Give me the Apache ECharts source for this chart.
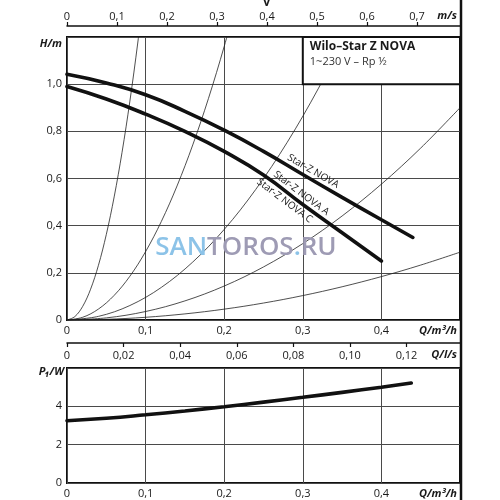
<!DOCTYPE html>
<html><head><meta charset="utf-8">
<script src="https://cdn.jsdelivr.net/npm/echarts@6/dist/echarts.min.js"></script>
<style>html,body{margin:0;padding:0;background:#fff}#c{width:500px;height:500px}</style>
</head><body><div id="c"></div>
<script>
// ---------- data ----------
// Pump curves H/m vs Q/m3/h
const novaQ  = [0, 0.05, 0.1, 0.15, 0.2, 0.25, 0.3, 0.35, 0.4, 0.44];
const novaH  = [1.042, 1.005, 0.955, 0.885, 0.805, 0.715, 0.617, 0.52, 0.425, 0.35];
const novaAQ = [0, 0.05, 0.1, 0.15, 0.2, 0.25, 0.3, 0.35, 0.4];
const novaAH = [0.99, 0.937, 0.873, 0.80, 0.715, 0.615, 0.49, 0.37, 0.25];
// System curves (thin lines)
const sysAQ = [0, 0.01, 0.02, 0.03, 0.04, 0.05, 0.06, 0.07, 0.08, 0.09, 0.1];
const sysAH = [0, 0.0145, 0.058, 0.1305, 0.232, 0.3625, 0.522, 0.7105, 0.928, 1.1745, 1.45];
const sysBQ = [0, 0.02, 0.04, 0.06, 0.08, 0.1, 0.12, 0.14, 0.16, 0.18, 0.2, 0.22];
const sysBH = [0, 0.0116, 0.0464, 0.1044, 0.1856, 0.29, 0.4176, 0.5684, 0.7424, 0.9396, 1.16, 1.4036];
const sysCQ = [0, 0.04, 0.08, 0.12, 0.16, 0.2, 0.24, 0.28, 0.32, 0.36];
const sysCH = [0, 0.0154, 0.0614, 0.1382, 0.2458, 0.384, 0.553, 0.7526, 0.983, 1.244];
const sysDQ = [0, 0.05, 0.1, 0.15, 0.2, 0.25, 0.3, 0.35, 0.4, 0.45, 0.5];
const sysDH = [0, 0.009, 0.036, 0.081, 0.144, 0.225, 0.324, 0.441, 0.576, 0.729, 0.9];
const sysEQ = [0, 0.05, 0.1, 0.15, 0.2, 0.25, 0.3, 0.35, 0.4, 0.45, 0.5];
const sysEH = [0, 0.0029, 0.0115, 0.0259, 0.046, 0.0719, 0.1035, 0.1409, 0.184, 0.2329, 0.2875];
// Power curve P1/W vs Q/m3/h
const powerQ = [0, 0.05, 0.1, 0.15, 0.2, 0.25, 0.3, 0.35, 0.4, 0.438];
const powerP = [3.25, 3.38, 3.56, 3.76, 3.98, 4.22, 4.47, 4.73, 5.0, 5.22];
// Axis ranges
const qMax = 0.5;          // m3/h
const hMax = 1.2;          // m
const pMax = 6;            // W
const vMax = 0.786;        // m/s at qMax
const lsMax = 0.1389;      // l/s at qMax
// Texts
const titleText = 'Wilo–Star Z NOVA';
const subText = '1~230 V – Rp ½';
const curveLabels = ['Star-Z NOVA', 'Star-Z NOVA A', 'Star-Z NOVA C'];

// ---------- chart ----------
const FONT = '"Open Sans", "DejaVu Sans", sans-serif';
const INK = '#1a1a1a';
const zip = (xs, ys) => xs.map((x, i) => [x, ys[i]]);
const comma = d => v => (v === 0 ? '0' : v.toFixed(d).replace('.', ','));
const lbl = (extra) => Object.assign({color: INK, fontSize: 11, fontFamily: FONT}, extra);

const chart = echarts.init(document.getElementById('c'), null, {renderer: 'canvas'});

function thin(q, h) {
  return {type: 'line', xAxisIndex: 0, yAxisIndex: 0, data: zip(q, h), smooth: 0.35,
    symbol: 'none', lineStyle: {color: '#222', width: 0.8}, z: 2, silent: true};
}
function thick(q, h, xi, yi) {
  return {type: 'line', xAxisIndex: xi, yAxisIndex: yi, data: zip(q, h), smooth: 0.5,
    symbol: 'none', lineStyle: {color: '#111', width: 3.6, cap: 'round'}, z: 5, silent: true};
}

const splitStyle = {lineStyle: {color: '#4a4a4a', width: 1}};
const option = {
  animation: false,
  backgroundColor: '#fff',
  grid: [
    {left: 67, right: 40, top: 37, bottom: 180, show: true, borderColor: '#111', borderWidth: 2},
    {left: 67, right: 40, top: 368, bottom: 17, show: true, borderColor: '#111', borderWidth: 2}
  ],
  xAxis: [
    {gridIndex: 0, type: 'value', min: 0, max: qMax, interval: 0.1, position: 'bottom',
      axisLine: {show: false}, axisTick: {show: false},
      axisLabel: lbl({formatter: comma(1), showMaxLabel: false, margin: 5}),
      splitLine: splitStyle},
    {gridIndex: 0, type: 'value', min: 0, max: vMax, interval: 0.1, position: 'top', offset: 11,
      axisLine: {show: true, onZero: false, lineStyle: {color: '#111', width: 1.5}},
      axisTick: {show: true, inside: false, length: 4, lineStyle: {color: '#111', width: 1.2}},
      axisLabel: lbl({formatter: comma(1), showMaxLabel: false, margin: 4}),
      splitLine: {show: false}},
    {gridIndex: 1, type: 'value', min: 0, max: qMax, interval: 0.1, position: 'bottom',
      axisLine: {show: false}, axisTick: {show: false},
      axisLabel: lbl({formatter: comma(1), showMaxLabel: false, margin: 5}),
      splitLine: splitStyle},
    {gridIndex: 1, type: 'value', min: 0, max: lsMax, interval: 0.02, position: 'top', offset: 25,
      axisLine: {show: true, onZero: false, lineStyle: {color: '#111', width: 1.5}},
      axisTick: {show: true, inside: true, length: 4, lineStyle: {color: '#111', width: 1.2}},
      axisLabel: lbl({formatter: comma(2), showMaxLabel: false, inside: true, margin: 7}),
      splitLine: {show: false}}
  ],
  yAxis: [
    {gridIndex: 0, type: 'value', min: 0, max: hMax, interval: 0.2,
      axisLine: {show: false}, axisTick: {show: false},
      axisLabel: lbl({formatter: comma(1), showMaxLabel: false, margin: 5}),
      splitLine: splitStyle},
    {gridIndex: 1, type: 'value', min: 0, max: pMax, interval: 2,
      axisLine: {show: false}, axisTick: {show: false},
      axisLabel: lbl({showMaxLabel: false, margin: 5}),
      splitLine: splitStyle}
  ],
  series: [
    thin(sysAQ, sysAH), thin(sysBQ, sysBH), thin(sysCQ, sysCH), thin(sysDQ, sysDH), thin(sysEQ, sysEH),
    thick(novaQ, novaH, 0, 0), thick(novaAQ, novaAH, 0, 0),
    thick(powerQ, powerP, 2, 1)
  ]
};
chart.setOption(option);

// ---------- annotations positioned from data coordinates ----------
const P0 = v => chart.convertToPixel({xAxisIndex: 0, yAxisIndex: 0}, v);
const P1 = v => chart.convertToPixel({xAxisIndex: 2, yAxisIndex: 1}, v);
// point on a polyline of the data at a given Q, and its on-screen angle
function onCurve(q, h, x) {
  let i = 0;
  while (i < q.length - 2 && q[i + 1] < x) i++;
  const t = (x - q[i]) / (q[i + 1] - q[i]);
  const a = P0([q[i], h[i]]), b = P0([q[i + 1], h[i + 1]]);
  return {x: a[0] + t * (b[0] - a[0]), y: a[1] + t * (b[1] - a[1]), rot: -Math.atan2(b[1] - a[1], b[0] - a[0])};
}
const boxTL = P0([0.3, hMax]);
const boxBR = P0([qMax, 1.0]);
const rightX = P0([qMax, 0])[0];
const g0TL = P0([0, hMax]);
const g0BL = P0([0, 0]);
const g1TL = P1([0, pMax]);
const g1BL = P1([0, 0]);
const titleStyle = (txt, x, y, align) => ({type: 'text', x, y, z: 60, silent: true,
  style: {text: txt, fill: INK, font: 'italic bold 11px ' + FONT, textAlign: align || 'right', textVerticalAlign: 'middle'}});

const graphics = [
  // legend box
  {type: 'rect', z: 50, silent: true,
    shape: {x: boxTL[0], y: boxTL[1], width: boxBR[0] - boxTL[0], height: boxBR[1] - boxTL[1]},
    style: {fill: '#fff', stroke: '#111', lineWidth: 2}},
  {type: 'text', z: 51, x: boxTL[0] + 7, y: boxTL[1] + 10, silent: true,
    style: {text: titleText, fill: INK, font: 'bold 12px ' + FONT, textVerticalAlign: 'middle'}},
  {type: 'text', z: 51, x: boxTL[0] + 7, y: boxTL[1] + 25, silent: true,
    style: {text: subText, fill: '#333', font: '11px ' + FONT, textVerticalAlign: 'middle'}},
  // right heavy rule
  {type: 'line', z: 55, silent: true, shape: {x1: rightX + 1, y1: 0, x2: rightX + 1, y2: 500},
    style: {stroke: '#111', lineWidth: 2.5}},
  // axis titles
  titleStyle('m/s', rightX - 3, 16),
  titleStyle('Q/m³/h', rightX - 3, g0BL[1] + 11),
  titleStyle('Q/l/s', rightX - 3, g1TL[1] - 13),
  titleStyle('Q/m³/h', rightX - 3, g1BL[1] + 11),
  titleStyle('H/m', g0TL[0] - 5, g0TL[1] + 7),
  titleStyle('P₁/W', g1TL[0] - 3, g1TL[1] + 4),
  {type: 'text', z: 60, silent: true, x: P0([0.254, 0])[0], y: 3,
    style: {text: 'v', fill: INK, font: 'bold 12px ' + FONT, textAlign: 'center', textVerticalAlign: 'middle'}},
  // watermark
  {type: 'text', z: 70, silent: true, x: P0([0.2277, 0])[0], y: P0([0, 0.305])[1],
    style: {text: '{a|SAN}{b|TOROS}{a|.}{b|RU}', textAlign: 'center', textVerticalAlign: 'middle',
      rich: {a: {fill: '#8cc3e8', font: '600 26px ' + FONT}, b: {fill: '#9e9bb4', font: '600 26px ' + FONT}}}}
];
// curve labels: [curve, Q at label centre, above(true)/below(false)]
const labelSpecs = [[novaQ, novaH, 0.308, true], [novaAQ, novaAH, 0.292, true], [novaAQ, novaAH, 0.283, false]];
curveLabels.forEach((t, i) => {
  const s = labelSpecs[i];
  const c = onCurve(s[0], s[1], s[2]);
  const gap = s[3] ? -3 : 3; // perpendicular gap from the heavy line
  graphics.push({type: 'text', z: 40, silent: true, x: c.x, y: c.y, rotation: c.rot,
    style: {text: t, fill: INK, font: '10px ' + FONT, textAlign: 'center',
      textVerticalAlign: s[3] ? 'bottom' : 'top', y: gap}});
});
chart.setOption({graphic: graphics});
</script>
</body></html>
